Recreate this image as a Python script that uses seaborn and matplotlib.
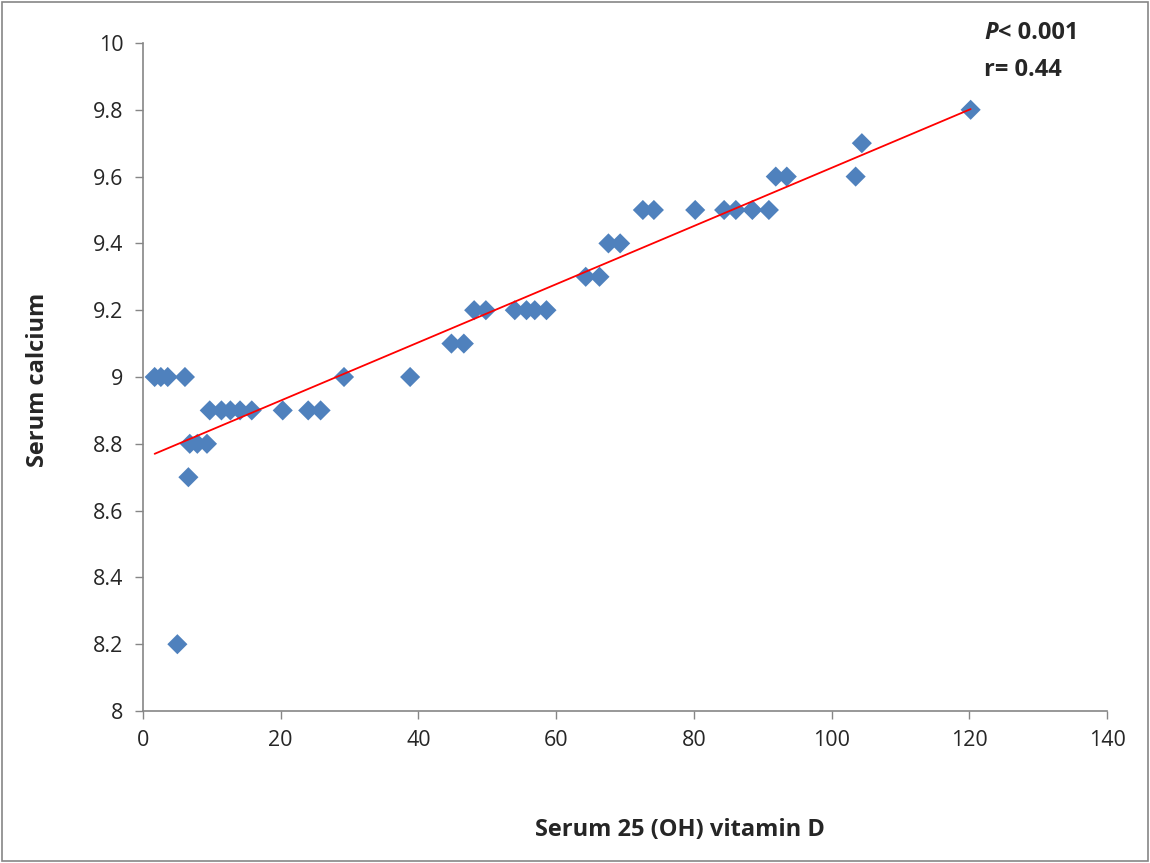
import numpy as np
import pandas as pd
import matplotlib
matplotlib.use("Agg")
import matplotlib.pyplot as plt
import matplotlib.patches as mpatches
from matplotlib.ticker import FuncFormatter, MultipleLocator
import seaborn as sns

# ── data ────────────────────────────────────────────────────────────────────
vit_d = [1.7, 2.6, 3.6, 6.1, 29.2, 38.8,
         9.7, 11.4, 12.7, 14.1, 15.8, 20.3, 24.0, 25.8,
         6.8, 7.9, 9.3,
         6.6,
         5.0,
         44.8, 46.6,
         48.1, 49.8, 54.0, 55.7, 56.9, 58.6,
         64.3, 66.3,
         67.6, 69.3,
         72.6, 74.2, 80.2, 84.4, 86.1, 88.5, 90.9,
         91.9, 93.5, 103.5,
         104.4,
         120.2]
calcium = [9.0] * 6 + [8.9] * 8 + [8.8] * 3 + [8.7] + [8.2] + [9.1] * 2 + \
          [9.2] * 6 + [9.3] * 2 + [9.4] * 2 + [9.5] * 7 + [9.6] * 3 + [9.7] + [9.8]

df = pd.DataFrame({"vitD": vit_d, "Ca": calcium})

sns.set_style("white")
plt.rcParams["font.family"] = ["Open Sans", "DejaVu Sans"]

fig = plt.figure(figsize=(11.5, 8.63), dpi=100)
ax = fig.add_axes([0.1243, 0.1761, 0.8383, 0.7741])

sns.scatterplot(data=df, x="vitD", y="Ca", marker="D", s=105, color="#4F81BD",
                edgecolor="none", ax=ax, zorder=3)
sns.regplot(data=df, x="vitD", y="Ca", scatter=False, ci=None, ax=ax,
            line_kws={"color": "red", "lw": 1.3, "zorder": 4})

ax.set_xlim(0, 140)
ax.set_ylim(8, 10)
ax.xaxis.set_major_locator(MultipleLocator(20))
ax.yaxis.set_major_locator(MultipleLocator(0.2))
ax.yaxis.set_major_formatter(FuncFormatter(lambda v, p: f"{v:g}"))

for s in ["top", "right"]:
    ax.spines[s].set_visible(False)
for s in ["left", "bottom"]:
    ax.spines[s].set_color("#868686")
    ax.spines[s].set_linewidth(1.2)
ax.tick_params(axis="both", direction="out", length=6, width=1, color="#868686",
               labelsize=15.5, pad=8, left=True, bottom=True)

ax.set_xlabel("Serum 25 (OH) vitamin D", fontsize=17, fontweight="bold")
ax.xaxis.set_label_coords(0.557, -0.16)
ax.set_ylabel("Serum calcium", fontsize=17, fontweight="bold")
ax.yaxis.set_label_coords(-0.096, 0.495)

fig.text(0.856, 0.962, "P", fontsize=17, fontweight="bold", fontstyle="italic",
         va="center", ha="left")
fig.text(0.868, 0.962, "< 0.001", fontsize=17, fontweight="bold", va="center", ha="left")
fig.text(0.856, 0.919, "r= 0.44", fontsize=17, fontweight="bold", va="center", ha="left")

fig.patches.append(mpatches.Rectangle((0.002, 0.002), 0.996, 0.996, transform=fig.transFigure,
                                      fill=False, edgecolor="#868686", lw=1.2))

fig.savefig("out.png", dpi=100)
